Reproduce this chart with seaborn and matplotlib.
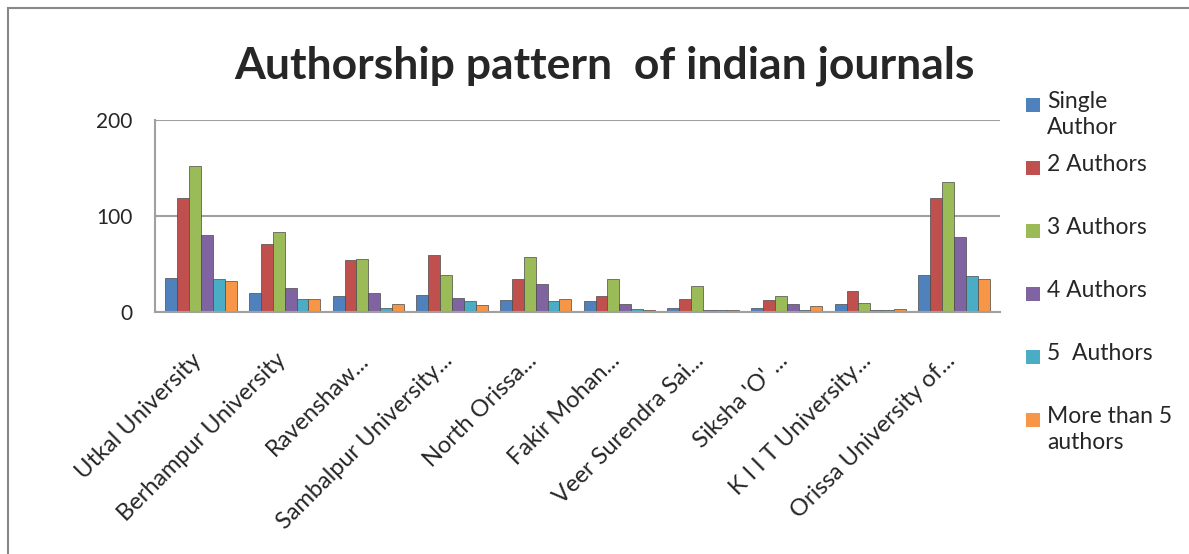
import pandas as pd
import numpy as np
import seaborn as sns
import matplotlib.pyplot as plt
import matplotlib.transforms as mtransforms
from matplotlib.patches import Rectangle

# --- data ---
universities = ['Utkal University', 'Berhampur University', 'Ravenshaw...',
                'Sambalpur University...', 'North Orissa...', 'Fakir Mohan...',
                'Veer Surendra Sai...', "Siksha 'O' ...", 'K I I T University...',
                'Orissa University of...']
patterns = ['Single\nAuthor', '2 Authors', '3 Authors', '4 Authors',
            '5  Authors', 'More than 5\nauthors']

single_author = [35, 20, 17, 18, 13, 11, 4, 4, 8, 39]
two_authors = [119, 71, 54, 59, 34, 17, 14, 13, 22, 119]
three_authors = [152, 83, 55, 39, 57, 34, 27, 17, 9, 135]
four_authors = [80, 25, 20, 15, 29, 8, 2, 8, 2, 78]
five_authors = [34, 14, 4, 11, 11, 3, 2, 2, 2, 37]
more_than_five = [32, 14, 8, 7, 14, 2, 2, 6, 3, 34]

colors = ['#4F81BD', '#C0504D', '#9BBB59', '#8064A2', '#4BACC6', '#F79646']

series = [single_author, two_authors, three_authors, four_authors,
          five_authors, more_than_five]
df = pd.DataFrame({
    'University': np.tile(universities, len(patterns)),
    'Pattern': np.repeat(patterns, len(universities)),
    'Count': np.concatenate(series),
})

sns.set_theme(style="white")
plt.rcParams['font.family'] = ['Lato', 'DejaVu Sans']

W, H = 1189, 554
fig = plt.figure(figsize=(W / 100, H / 100), dpi=100)
ax = fig.add_axes([155 / W, 1 - 312 / H, 845 / W, 192 / H])

sns.barplot(data=df, x='University', y='Count', hue='Pattern',
            hue_order=patterns, order=universities, palette=colors,
            width=0.85, ax=ax, legend=False, saturation=1,
            edgecolor='#4a4a4a', linewidth=0.5)

ax.set_ylim(0, 200)
ax.set_yticks([0, 100, 200])
ax.tick_params(axis='y', labelsize=15, pad=16, length=0)
ax.tick_params(axis='x', labelsize=17, pad=27, length=0)
ax.set_xlabel('')
ax.set_ylabel('')
ax.set_xlim(-0.55, len(universities) - 0.45)
shift = mtransforms.ScaledTranslation(-10 / 100, 0, fig.dpi_scale_trans)
for lab in ax.get_xticklabels():
    lab.set_rotation(45)
    lab.set_ha('right')
    lab.set_rotation_mode('anchor')
    lab.set_transform(lab.get_transform() + shift)

ax.yaxis.grid(True, color='#a0a0a0', linewidth=1.5)
ax.set_axisbelow(True)
for side in ['top', 'right']:
    ax.spines[side].set_visible(False)
for side in ['left', 'bottom']:
    ax.spines[side].set_color('#a0a0a0')
    ax.spines[side].set_linewidth(1.5)

fig.text(604 / W, 1 - 78 / H, 'Authorship pattern  of indian journals',
         ha='center', va='baseline', fontsize=32, fontweight='bold')

# legend laid out like the office chart: equal slots, text hung from the top
for i, (label, c) in enumerate(zip(patterns, colors)):
    top = 95 + 63 * i
    fig.patches.append(Rectangle((1026 / W, 1 - (top + 17) / H), 14 / W, 14 / H,
                                 transform=fig.transFigure, facecolor=c,
                                 edgecolor='none'))
    fig.text(1047 / W, 1 - (top - 4) / H, label, ha='left', va='top',
             fontsize=16.5, linespacing=1.3)

# grey frame round the whole chart
fig.patches.append(Rectangle((8 / W, -0.01), 1.0, 1 - 8 / H + 0.01,
                             transform=fig.transFigure, fill=False,
                             edgecolor='#888888', linewidth=1.5))

fig.savefig('out.png', dpi=100)
